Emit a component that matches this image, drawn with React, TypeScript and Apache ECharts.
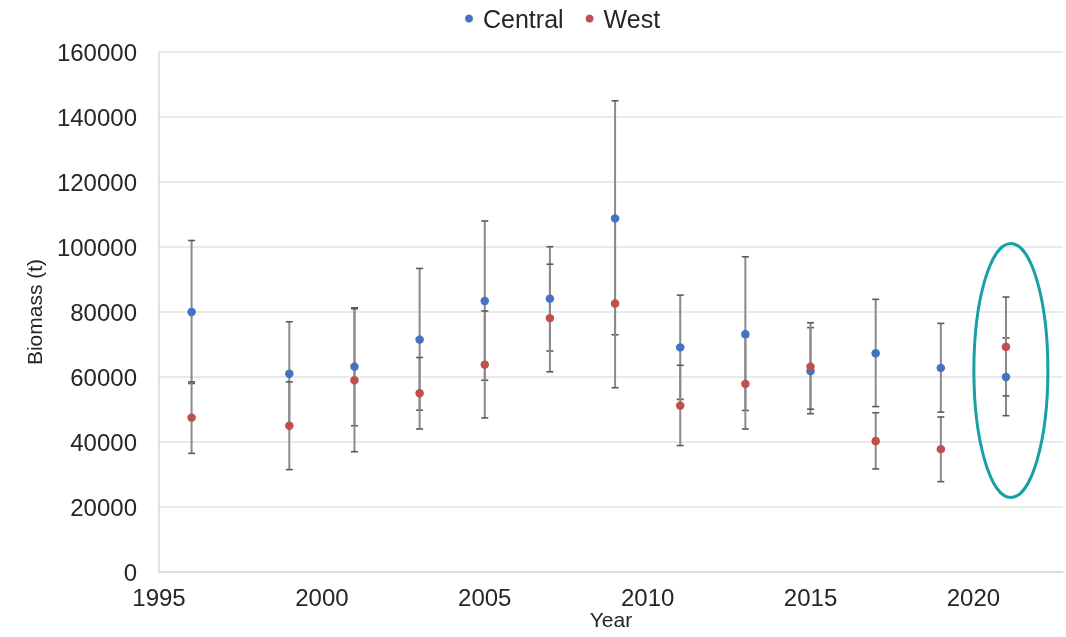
import React, { useEffect, useRef } from "react";
import * as echarts from "echarts";

const years = [1996, 1999, 2001, 2003, 2005, 2007, 2009, 2011, 2013, 2015, 2017, 2019, 2021];
const central = [80000, 61000, 63200, 71500, 83400, 84100, 108800, 69100, 73200, 61800, 67300, 62800, 60000];
const centralLow = [58000, 45000, 45000, 49800, 59000, 68000, 73000, 53100, 49700, 48700, 50900, 49200, 48100];
const centralHigh = [102000, 77000, 81300, 93400, 108000, 100100, 145000, 85200, 97000, 75200, 83900, 76500, 72000];
const west = [47500, 45000, 59000, 55000, 63800, 78100, 82600, 51200, 57900, 63200, 40300, 37800, 69300];
const westLow = [36500, 31500, 37000, 44000, 47400, 61600, 56700, 38900, 44000, 50100, 31700, 27800, 54200];
const westHigh = [58500, 58500, 81000, 66000, 80300, 94700, 108500, 63600, 72400, 76700, 49000, 47700, 84600];

const highlight = { year: 2021.15, value: 62000 };

const FONT = "'Liberation Sans', Arial, sans-serif";

function errorRender(params: any, api: any) {
  const x = api.value(0);
  const lo = api.coord([x, api.value(1)]);
  const hi = api.coord([x, api.value(2)]);
  const w = 3.5;
  return {
    type: "group",
    children: [
      { type: "line", shape: { x1: lo[0], y1: lo[1], x2: hi[0], y2: hi[1] }, style: { stroke: "#8a8a8a", lineWidth: 2 } },
      { type: "line", shape: { x1: lo[0] - w, y1: lo[1], x2: lo[0] + w, y2: lo[1] }, style: { stroke: "#5a5a5a", lineWidth: 1.6 } },
      { type: "line", shape: { x1: hi[0] - w, y1: hi[1], x2: hi[0] + w, y2: hi[1] }, style: { stroke: "#5a5a5a", lineWidth: 1.6 } },
    ],
  };
}

export default function App() {
  const ref = useRef<HTMLDivElement>(null);
  useEffect(() => {
    if (!ref.current) return;
    const chart = echarts.init(ref.current, null, { renderer: "svg" });
    chart.setOption({
      animation: false,
      textStyle: { fontFamily: FONT },
      legend: {
        data: ["Central", "West"],
        top: 1,
        left: 460,
        icon: "circle",
        itemWidth: 8,
        itemHeight: 8,
        itemGap: 22,
        textStyle: { fontSize: 25, color: "#262626", fontFamily: FONT, padding: [0, 0, 0, 5] },
      },
      grid: { left: 159, right: 3, top: 52, bottom: 65, outerBoundsMode: "none", containLabel: false },
      xAxis: {
        type: "value",
        min: 1995,
        max: 2022.75,
        interval: 5,
        name: "Year",
        nameLocation: "middle",
        nameGap: 37,
        nameMoveOverlap: false,
        nameTextStyle: { fontSize: 21, color: "#262626", fontFamily: FONT },
        axisLine: { show: true, lineStyle: { color: "#d9d9d9", width: 1.5 } },
        axisTick: { show: false },
        splitLine: { show: false },
        axisLabel: {
          fontSize: 24,
          color: "#262626",
          margin: 13,
          fontFamily: FONT,
          formatter: (v: number) => (v % 5 === 0 ? String(v) : ""),
        },
      },
      yAxis: {
        type: "value",
        min: 0,
        max: 160000,
        interval: 20000,
        name: "Biomass (t)",
        nameLocation: "middle",
        nameGap: 114,
        nameTextStyle: { fontSize: 21, color: "#262626", fontFamily: FONT },
        axisLine: { show: true, lineStyle: { color: "#d9d9d9", width: 1.5 } },
        axisTick: { show: false },
        splitLine: { lineStyle: { color: "#e3e3e3", width: 1.5 } },
        axisLabel: {
          fontSize: 24,
          color: "#262626",
          margin: 22,
          fontFamily: FONT,
          formatter: (v: number) => String(v),
        },
      },
      series: [
        {
          name: "Central error",
          type: "custom",
          renderItem: errorRender,
          encode: { x: 0, y: [1, 2] },
          data: years.map((y, i) => [y, centralLow[i], centralHigh[i]]),
          z: 1,
        },
        {
          name: "West error",
          type: "custom",
          renderItem: errorRender,
          encode: { x: 0, y: [1, 2] },
          data: years.map((y, i) => [y, westLow[i], westHigh[i]]),
          z: 1,
        },
        {
          name: "Central",
          type: "scatter",
          symbol: "circle",
          symbolSize: 8.5,
          itemStyle: { color: "#4472c4", opacity: 1 },
          data: years.map((y, i) => [y, central[i]]),
          z: 3,
        },
        {
          name: "West",
          type: "scatter",
          symbol: "circle",
          symbolSize: 8.5,
          itemStyle: { color: "#c0504d", opacity: 1 },
          data: years.map((y, i) => [y, west[i]]),
          z: 4,
        },
      ],
    });
    const c = chart.convertToPixel({ gridIndex: 0 }, [highlight.year, highlight.value]) as number[];
    chart.setOption({
      graphic: [
        {
          type: "ellipse",
          shape: { cx: c[0], cy: c[1], rx: 37, ry: 127 },
          style: { fill: "none", stroke: "#17a0a6", lineWidth: 3 },
          z: 10,
        },
      ],
    });
    return () => chart.dispose();
  }, []);
  return <div ref={ref} style={{ position: "fixed", left: 0, top: 0, width: 1066, height: 637 }} />;
}
